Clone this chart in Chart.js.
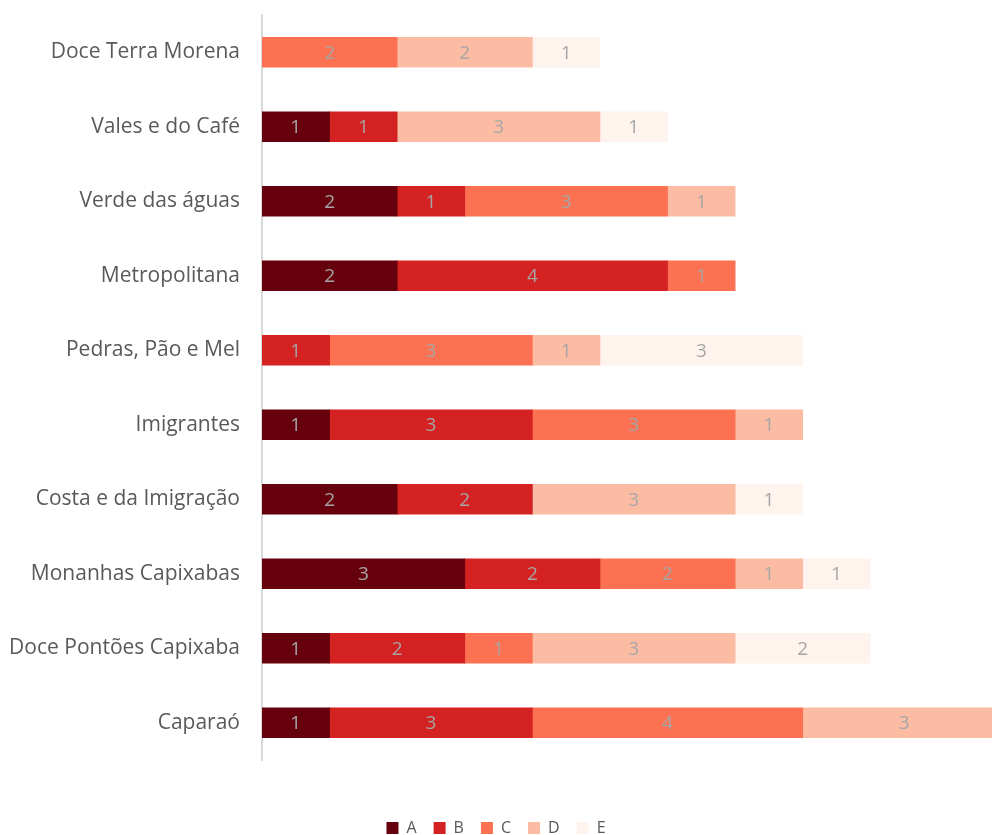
<!DOCTYPE html>
<html lang="pt">
<head>
    <meta charset="UTF-8">
    <title>Regiões</title>
    <script src="https://cdn.jsdelivr.net/npm/chart.js"></script>
    <style>
        body { margin: 0; background: #fff; }
        .wrap { width: 992px; height: 835px; }
    </style>
</head>
<body>
<div class="wrap"><canvas id="myChart" width="992" height="835"></canvas></div>
<script>
    // categorias (de cima para baixo)
    var regioes = ['Doce Terra Morena', 'Vales e do Café', 'Verde das águas', 'Metropolitana',
        'Pedras, Pão e Mel', 'Imigrantes', 'Costa e da Imigração', 'Monanhas Capixabas',
        'Doce Pontões Capixaba', 'Caparaó'];
    var serieA = [0, 1, 2, 2, 0, 1, 2, 3, 1, 1];
    var serieB = [0, 1, 1, 4, 1, 3, 2, 2, 2, 3];
    var serieC = [2, 0, 3, 1, 3, 3, 0, 2, 1, 4];
    var serieD = [2, 3, 1, 0, 1, 1, 3, 1, 3, 3];
    var serieE = [1, 1, 0, 0, 3, 0, 1, 1, 2, 0];
    var nomes = ['A', 'B', 'C', 'D', 'E'];
    var cores = ['#67000d', '#d42121', '#fb7151', '#fcbca3', '#fff3ee'];

    var series = [serieA, serieB, serieC, serieD, serieE];
    var datasets = series.map(function (s, i) {
        return {
            label: nomes[i],
            data: s.map(function (v) { return v === 0 ? null : v; }), // 0 = sem barra
            backgroundColor: cores[i], borderWidth: 0, barThickness: 30
        };
    });

    // rótulos dentro das barras
    var rotulos = {
        id: 'rotulos',
        afterDatasetsDraw: function (chart) {
            var ctx = chart.ctx;
            ctx.save();
            ctx.font = '19px "Open Sans"';
            ctx.fillStyle = '#a6a6a6';
            ctx.textAlign = 'center';
            ctx.textBaseline = 'middle';
            chart.data.datasets.forEach(function (ds, i) {
                var meta = chart.getDatasetMeta(i);
                meta.data.forEach(function (bar, j) {
                    var v = ds.data[j];
                    if (!v) return;
                    ctx.fillText(String(v), (bar.x + bar.base) / 2, bar.y + 1);
                });
            });
            ctx.restore();
        }
    };

    var ctx = document.getElementById('myChart').getContext('2d');
    var myChart = new Chart(ctx, {
        type: 'bar',
        data: { labels: regioes, datasets: datasets },
        plugins: [rotulos],
        options: {
            indexAxis: 'y',
            responsive: false,
            animation: false,
            layout: { padding: { top: 15, right: 0, bottom: -11, left: 0 } },
            scales: {
                x: {
                    stacked: true, min: 0, max: 10.8,
                    ticks: { display: false },
                    grid: { display: false, drawTicks: false },
                    border: { display: false },
                    afterFit: function (axis) { axis.height = 43; }
                },
                y: {
                    stacked: true,
                    grid: { display: false, drawTicks: false },
                    border: { display: true, color: '#d9d9d9', width: 2 },
                    ticks: { color: '#595959', font: { family: 'Open Sans', size: 21 }, padding: 22 },
                    afterFit: function (axis) {
                        axis.width = 262;
                        axis.paddingTop = 0;
                        axis.paddingBottom = 0;
                    }
                }
            },
            plugins: {
                legend: {
                    position: 'bottom',
                    labels: {
                        boxWidth: 12, boxHeight: 12, padding: 17,
                        color: '#595959', font: { family: 'Open Sans', size: 16 }
                    }
                },
                tooltip: { enabled: false }
            }
        }
    });
</script>
</body>
</html>
